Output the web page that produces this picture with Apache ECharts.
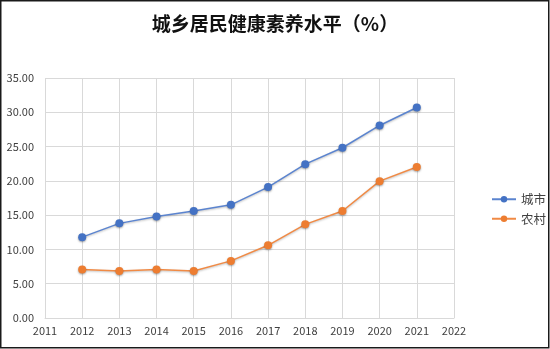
<!DOCTYPE html>
<html>
<head>
<meta charset="utf-8">
<script src="https://cdn.jsdelivr.net/npm/echarts@6/dist/echarts.min.js"></script>
<style>
  html, body { margin: 0; padding: 0; background: #fff; }
  #chart { width: 550px; height: 349px; }
</style>
</head>
<body>
<div id="chart"></div>
<script>
// Health literacy level of urban and rural residents, 2012–2021 (%)
const years = [2012, 2013, 2014, 2015, 2016, 2017, 2018, 2019, 2020, 2021];
const urban = [11.79, 13.80, 14.79, 15.60, 16.50, 19.09, 22.44, 24.83, 28.08, 30.70];
const rural = [7.08, 6.85, 7.08, 6.85, 8.33, 10.60, 13.66, 15.60, 19.96, 22.03];
const seriesNames = ['城市', '农村'];

const font = '"Noto Sans CJK SC", "Noto Sans", sans-serif';
const chart = echarts.init(document.getElementById('chart'));

chart.setOption({
  animation: false,
  backgroundColor: '#fff',
  textStyle: { fontFamily: font },
  title: {
    text: '城乡居民健康素养水平（%）',
    left: 'center',
    top: 9,
    textStyle: { fontFamily: font, fontSize: 19, fontWeight: 'bold', color: '#111' }
  },
  legend: {
    orient: 'vertical',
    left: 486,
    top: 188,
    itemWidth: 24,
    itemHeight: 8,
    itemGap: 7,
    textStyle: { fontFamily: font, fontSize: 12.5, color: '#404040' },
    data: seriesNames
  },
  grid: { left: 45, right: 96, top: 78, bottom: 31 },
  xAxis: {
    type: 'value',
    min: 2011,
    max: 2022,
    interval: 1,
    axisLine: { show: true, lineStyle: { color: '#d9d9d9' } },
    axisTick: { show: false },
    splitLine: { show: true, lineStyle: { color: '#d9d9d9', width: 1 } },
    axisLabel: {
      margin: 7,
      color: '#404040',
      fontSize: 11,
      fontFamily: font,
      formatter: v => String(v)
    }
  },
  yAxis: {
    type: 'value',
    min: 0,
    max: 35,
    interval: 5,
    axisLine: { show: false },
    axisTick: { show: false },
    splitLine: { lineStyle: { color: '#d9d9d9', width: 1 } },
    axisLabel: {
      margin: 11,
      color: '#404040',
      fontSize: 11,
      fontFamily: font,
      formatter: v => v.toFixed(2)
    }
  },
  series: [
    {
      name: seriesNames[0],
      type: 'line',
      data: years.map((y, i) => [y, urban[i]]),
      symbol: 'circle',
      symbolSize: 8,
      color: '#4472C4',
      lineStyle: { width: 1.5, color: '#5b84cf', shadowColor: 'rgba(0,0,0,0.25)', shadowBlur: 2, shadowOffsetY: 1 },
      itemStyle: { color: '#4472C4', shadowColor: 'rgba(0,0,0,0.35)', shadowBlur: 2, shadowOffsetY: 1 }
    },
    {
      name: seriesNames[1],
      type: 'line',
      data: years.map((y, i) => [y, rural[i]]),
      symbol: 'circle',
      symbolSize: 8,
      color: '#ED7D31',
      lineStyle: { width: 1.5, color: '#f08a45', shadowColor: 'rgba(0,0,0,0.25)', shadowBlur: 2, shadowOffsetY: 1 },
      itemStyle: { color: '#ED7D31', shadowColor: 'rgba(0,0,0,0.35)', shadowBlur: 2, shadowOffsetY: 1 }
    }
  ],
  graphic: [
    {
      type: 'rect',
      silent: true,
      shape: { x: 0.75, y: 0.75, width: 548, height: 347 },
      style: { fill: 'none', stroke: '#1a1a1a', lineWidth: 1.5 }
    }
  ]
});
</script>
</body>
</html>
